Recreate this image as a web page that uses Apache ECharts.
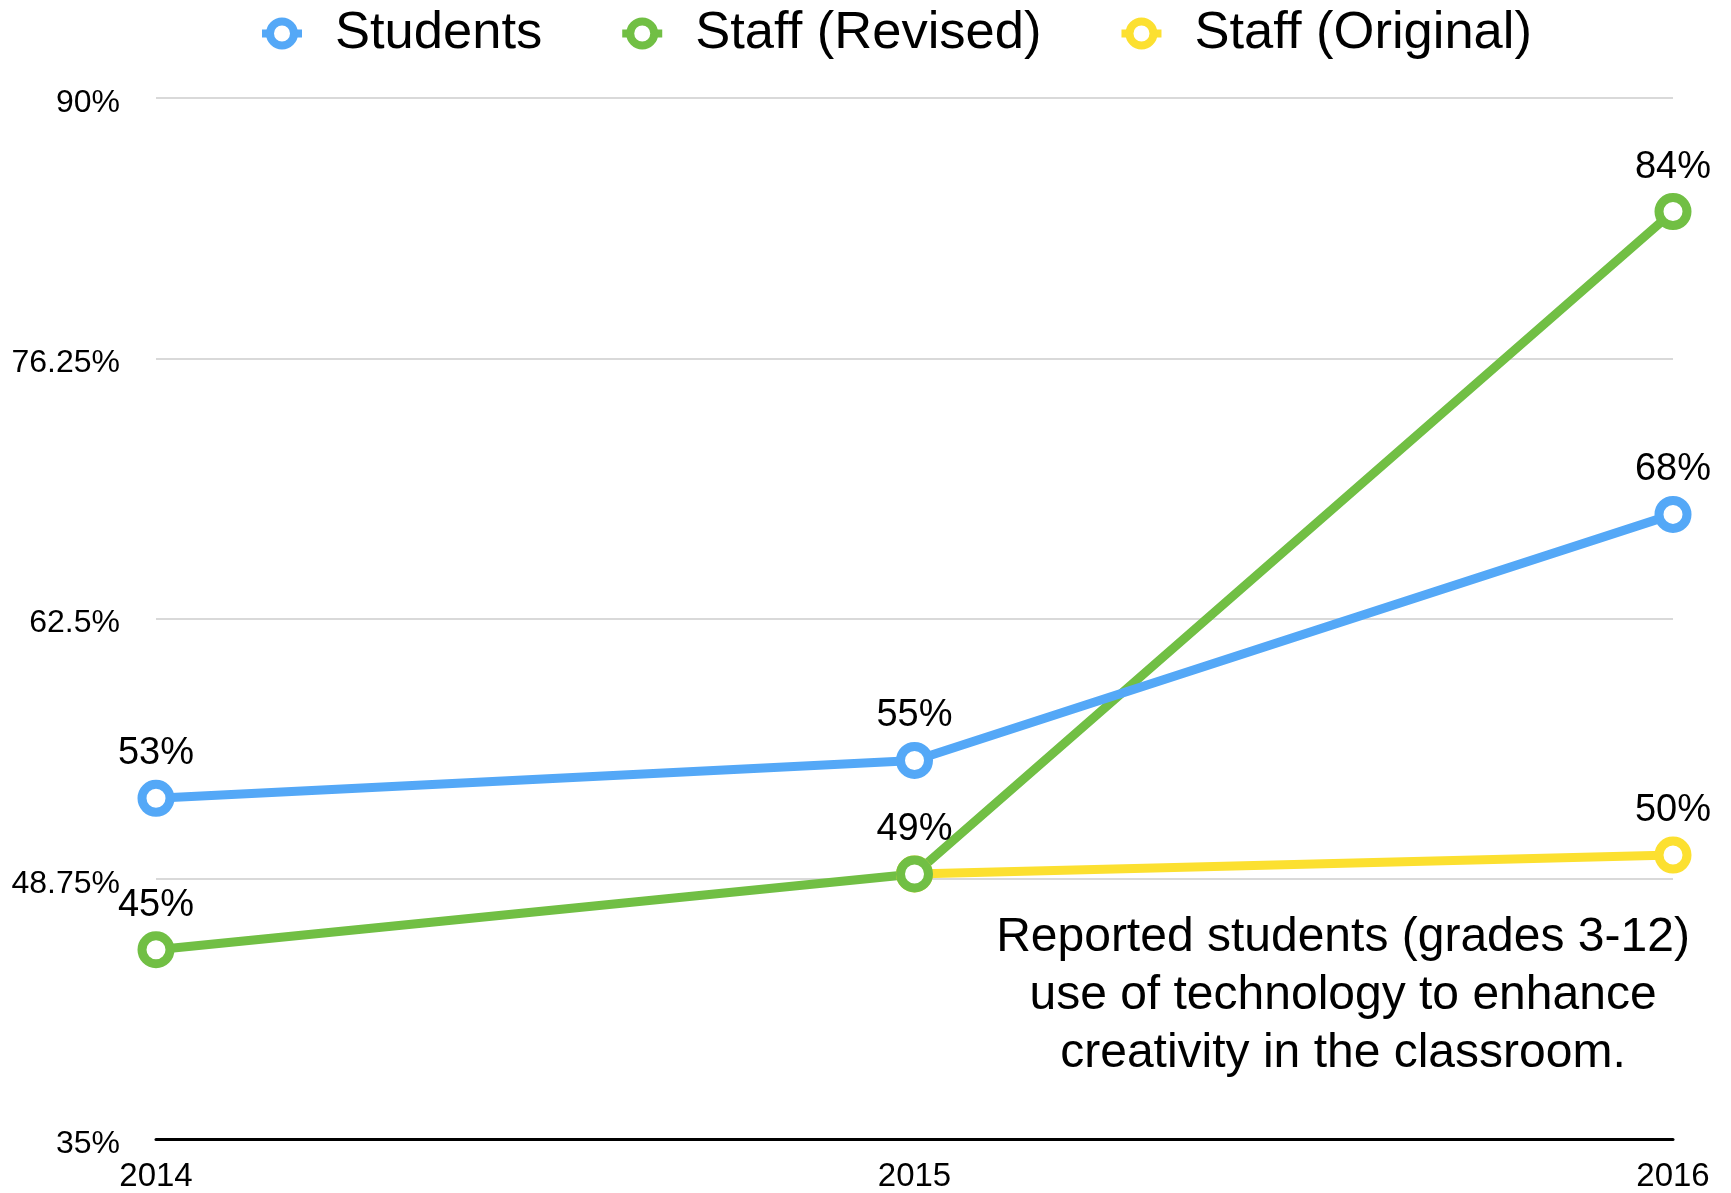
<!DOCTYPE html>
<html>
<head>
<meta charset="utf-8">
<script src="https://cdn.jsdelivr.net/npm/echarts@6/dist/echarts.min.js"></script>
<style>
html,body{margin:0;padding:0;background:#fff;}
#chart{width:1731px;height:1193px;}
</style>
</head>
<body>
<div id="chart"></div>
<script>
const years = ['2014', '2015', '2016'];
const students = [53, 55, 68];
const staffRevised = [45, 49, 84];
const staffOriginal = [null, 49, 50];
const yTicks = [35, 48.75, 62.5, 76.25, 90];
const note = ['Reported students (grades 3-12)', 'use of technology to enhance', 'creativity in the classroom.'];

const FONT = '"Liberation Sans", Arial, Helvetica, sans-serif';
const colors = {students: '#54A8F7', revised: '#71BF44', original: '#FCE030'};

function makeSeries(name, values, color, hideIdx) {
  return {
    name: name,
    type: 'line',
    data: values.map((v, i) => (hideIdx && hideIdx.indexOf(i) >= 0) ? {value: v, label: {show: false}} : v),
    symbol: 'circle',
    symbolSize: 28,
    showAllSymbol: true,
    connectNulls: false,
    lineStyle: {color: color, width: 9},
    itemStyle: {color: '#ffffff', borderColor: color, borderWidth: 9},
    label: {
      show: true,
      position: 'top',
      distance: 7,
      formatter: p => p.value + '%',
      fontFamily: FONT,
      fontSize: 38,
      color: '#000'
    },
    emphasis: {disabled: true},
    animation: false
  };
}

const chart = echarts.init(document.getElementById('chart'));
chart.setOption({
  backgroundColor: '#fff',
  animation: false,
  legend: {
    data: ['Students', 'Staff (Revised)', 'Staff (Original)'],
    left: 253,
    top: 2,
    itemWidth: 40,
    itemHeight: 30,
    itemGap: 76,
    itemStyle: {borderWidth: 8},
    lineStyle: {width: 8},
    textStyle: {fontFamily: FONT, fontSize: 52.5, color: '#000', padding: [0, 0, 0, 28]}
  },
  grid: {left: 156, right: 58, top: 98, bottom: 52, containLabel: false},
  xAxis: {
    type: 'category',
    data: years,
    boundaryGap: false,
    axisLine: {lineStyle: {color: '#000', width: 3}},
    axisTick: {show: false},
    axisLabel: {fontFamily: FONT, fontSize: 33, color: '#000', margin: 21},
    splitLine: {show: false}
  },
  yAxis: {
    type: 'value',
    min: yTicks[0],
    max: yTicks[yTicks.length - 1],
    interval: yTicks[1] - yTicks[0],
    axisLine: {show: false},
    axisTick: {show: false},
    axisLabel: {
      fontFamily: FONT, fontSize: 32, color: '#000', margin: 36,
      formatter: v => '{t|' + v + '%}',
      rich: {t: {fontFamily: FONT, fontSize: 32, color: '#000', padding: [10, 0, 0, 0]}}
    },
    splitLine: {lineStyle: {color: '#cccccc', width: 1.5}}
  },
  graphic: [{
    type: 'text',
    left: 1343 - 400,
    top: 909,
    style: {
      text: note.join('\n'),
      x: 400,
      width: 800,
      align: 'center',
      textAlign: 'center',
      font: '48px ' + FONT,
      lineHeight: 58,
      fill: '#000'
    }
  }],
  series: [
    makeSeries('Staff (Original)', staffOriginal, colors.original, [1]),
    makeSeries('Staff (Revised)', staffRevised, colors.revised),
    makeSeries('Students', students, colors.students)
  ]
});
</script>
</body>
</html>
